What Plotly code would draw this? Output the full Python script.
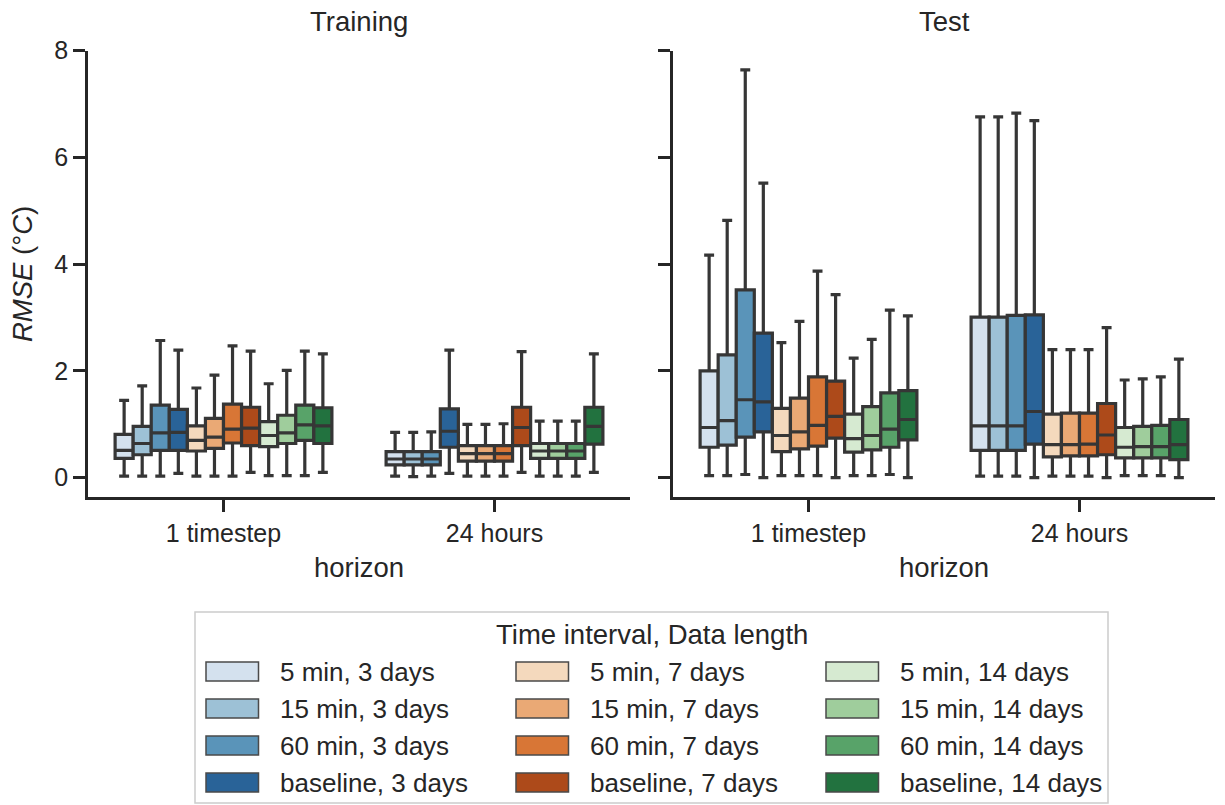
import colorsys
import plotly.graph_objects as go

# ---------------- data ----------------
horizons = ["1 timestep", "24 hours"]
intervals = ["5 min", "15 min", "60 min", "baseline"]
lengths = ["3 days", "7 days", "14 days"]
hue_labels = [f"{i}, {l}" for l in lengths for i in intervals]

# Training panel: [1 timestep values (12 hues), 24 hours values (12 hues)]
train_lower = [[0.03, 0.03, 0.03, 0.08, 0.03, 0.03, 0.03, 0.10, 0.04, 0.04, 0.04, 0.10],
               [0.03, 0.02, 0.03, 0.08, 0.03, 0.03, 0.03, 0.10, 0.03, 0.03, 0.03, 0.10]]
train_q1 = [[0.36, 0.43, 0.51, 0.51, 0.50, 0.55, 0.65, 0.60, 0.58, 0.64, 0.70, 0.64],
            [0.24, 0.24, 0.24, 0.57, 0.31, 0.31, 0.31, 0.60, 0.36, 0.36, 0.36, 0.63]]
train_median = [[0.51, 0.64, 0.84, 0.85, 0.70, 0.76, 0.91, 0.93, 0.79, 0.84, 0.99, 0.97],
                [0.35, 0.35, 0.35, 0.87, 0.45, 0.45, 0.45, 0.94, 0.50, 0.50, 0.50, 0.96]]
train_q3 = [[0.81, 0.96, 1.36, 1.28, 0.97, 1.11, 1.38, 1.32, 1.05, 1.17, 1.36, 1.31],
            [0.49, 0.49, 0.49, 1.29, 0.60, 0.60, 0.60, 1.32, 0.64, 0.64, 0.64, 1.32]]
train_upper = [[1.45, 1.72, 2.57, 2.39, 1.68, 1.92, 2.47, 2.37, 1.76, 2.01, 2.37, 2.32],
               [0.85, 0.85, 0.86, 2.39, 1.00, 1.00, 1.01, 2.36, 1.06, 1.06, 1.06, 2.32]]

# Test panel
test_lower = [[0.04, 0.04, 0.06, 0.00, 0.04, 0.04, 0.04, 0.00, 0.04, 0.04, 0.06, 0.00],
              [0.03, 0.03, 0.03, 0.00, 0.03, 0.03, 0.03, 0.00, 0.04, 0.04, 0.04, 0.00]]
test_q1 = [[0.57, 0.61, 0.76, 0.86, 0.49, 0.54, 0.59, 0.74, 0.48, 0.52, 0.57, 0.71],
           [0.51, 0.51, 0.51, 0.63, 0.39, 0.41, 0.41, 0.43, 0.37, 0.37, 0.37, 0.34]]
test_median = [[0.94, 1.07, 1.46, 1.42, 0.79, 0.86, 0.98, 1.15, 0.73, 0.79, 0.91, 1.09],
               [0.97, 0.97, 0.97, 1.24, 0.62, 0.62, 0.63, 0.80, 0.57, 0.58, 0.58, 0.62]]
test_q3 = [[2.00, 2.30, 3.52, 2.71, 1.30, 1.49, 1.89, 1.81, 1.19, 1.33, 1.59, 1.63],
           [3.01, 3.01, 3.04, 3.05, 1.19, 1.21, 1.21, 1.39, 0.94, 0.96, 0.98, 1.09]]
test_upper = [[4.17, 4.82, 7.64, 5.52, 2.53, 2.93, 3.87, 3.43, 2.24, 2.59, 3.14, 3.03],
              [6.76, 6.76, 6.83, 6.69, 2.40, 2.40, 2.40, 2.81, 1.83, 1.85, 1.89, 2.22]]

y_ticks = [0, 2, 4, 6, 8]

# ---------------- styles ----------------
W, H = 1225, 805
FONT = "Liberation Sans, Arial, sans-serif"
TXT = "#262626"
EDGE = "#363636"

base_palette = ["#d0e1f2", "#94c4df", "#4a98c9", "#1764ab",
                "#fdd9b4", "#fda762", "#f3701b", "#c54102",
                "#d3eecd", "#98d594", "#4bb062", "#157f3b"]


def desat(hexc, prop=0.75):
    r, g, b = (int(hexc[k:k + 2], 16) / 255 for k in (1, 3, 5))
    h, l, s = colorsys.rgb_to_hls(r, g, b)
    r, g, b = colorsys.hls_to_rgb(h, l, s * prop)
    return "#%02x%02x%02x" % tuple(round(v * 255) for v in (r, g, b))


colors = [desat(c) for c in base_palette]


def px(xp):
    return xp / W


def py(yp):
    return 1 - yp / H


fig = go.Figure()

panels = [
    ("x", "y", train_lower, train_q1, train_median, train_q3, train_upper),
    ("x2", "y2", test_lower, test_q1, test_median, test_q3, test_upper),
]
for xa, ya, lo, q1, med, q3, up in panels:
    for k, lab in enumerate(hue_labels):
        fig.add_trace(go.Box(
            x=horizons,
            lowerfence=[lo[0][k], lo[1][k]],
            q1=[q1[0][k], q1[1][k]],
            median=[med[0][k], med[1][k]],
            q3=[q3[0][k], q3[1][k]],
            upperfence=[up[0][k], up[1][k]],
            name=lab,
            offsetgroup=str(k),
            fillcolor=colors[k],
            line=dict(color=EDGE, width=3.2),
            marker=dict(color=EDGE),
            whiskerwidth=0.55,
            boxpoints=False,
            showlegend=False,
            xaxis=xa, yaxis=ya,
        ))

left_dom = (88, 630)
right_dom = (673, 1215)
y_dom = [py(497), py(50.7)]
y_range = [-0.362, 8.0]

axis_common = dict(
    showline=True, linecolor=TXT, linewidth=2.5,
    ticks="outside", ticklen=12, tickwidth=2.5, tickcolor=TXT,
    showgrid=False, zeroline=False, automargin=False,
    tickfont=dict(family=FONT, size=25, color=TXT),
)

fig.update_layout(
    width=W, height=H,
    margin=dict(l=0, r=0, t=0, b=0, autoexpand=False),
    paper_bgcolor="white", plot_bgcolor="white",
    boxmode="group", boxgap=0.2, boxgroupgap=0,
    font=dict(family=FONT, color=TXT),
    showlegend=False,
    xaxis=dict(domain=[px(left_dom[0]), px(left_dom[1])], anchor="y", type="category",
               categoryorder="array", categoryarray=horizons, range=[-0.5, 1.5],
               title=dict(text="horizon", font=dict(family=FONT, size=27.5, color=TXT), standoff=12),
               **axis_common),
    xaxis2=dict(domain=[px(right_dom[0]), px(right_dom[1])], anchor="y2", type="category",
                categoryorder="array", categoryarray=horizons, range=[-0.5, 1.5],
                title=dict(text="horizon", font=dict(family=FONT, size=27.5, color=TXT), standoff=12),
                **axis_common),
    yaxis=dict(domain=y_dom, anchor="x", range=y_range, tickvals=y_ticks,
               title=dict(text="<i>RMSE</i> (°<i>C</i>)", font=dict(family=FONT, size=27.5, color=TXT), standoff=14),
               **axis_common),
    yaxis2=dict(domain=y_dom, anchor="x2", range=y_range, tickvals=y_ticks,
                showticklabels=False, matches="y", **axis_common),
)

# subplot titles
for text, (a, b) in [("Training", left_dom), ("Test", right_dom)]:
    fig.add_annotation(text=text, x=px((a + b) / 2), y=py(22), xref="paper", yref="paper",
                       xanchor="center", yanchor="middle", showarrow=False,
                       font=dict(family=FONT, size=27.5, color=TXT))

# legend (drawn)
fig.add_shape(type="rect", xref="paper", yref="paper",
              x0=px(195), x1=px(1108), y0=py(803), y1=py(612),
              line=dict(color="#cccccc", width=1.5), fillcolor="white", layer="above")
fig.add_annotation(text="Time interval, Data length", x=px(651.5), y=py(634),
                   xref="paper", yref="paper", xanchor="center", yanchor="middle",
                   showarrow=False, font=dict(family=FONT, size=27.5, color=TXT))
for k, lab in enumerate(hue_labels):
    col, row = k // 4, k % 4
    x0 = 206 + 310 * col
    yc = 671.5 + 37 * row
    fig.add_shape(type="rect", xref="paper", yref="paper",
                  x0=px(x0), x1=px(x0 + 52.5), y0=py(yc + 9.5), y1=py(yc - 9.5),
                  line=dict(color="#4a4a4a", width=1.5), fillcolor=colors[k], layer="above")
    fig.add_annotation(text=lab, x=px(x0 + 72), y=py(yc), xref="paper", yref="paper",
                       xanchor="left", yanchor="middle", showarrow=False,
                       font=dict(family=FONT, size=26, color=TXT))

fig.write_html("out.html")
